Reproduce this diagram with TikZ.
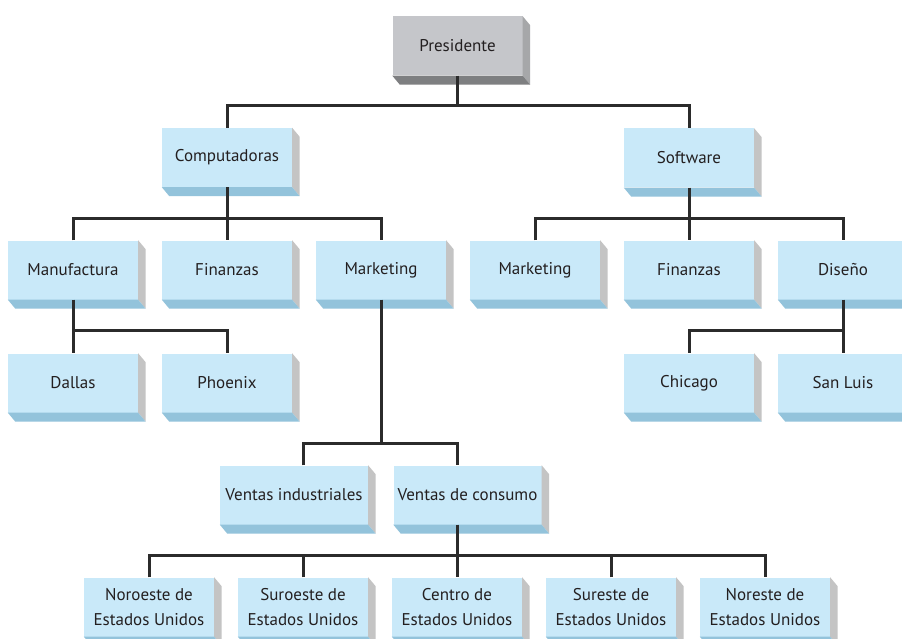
\documentclass[tikz,border=0pt]{standalone}
\usepackage{fontspec}
\setmainfont{PT Sans}
\definecolor{facefill}{HTML}{C9E9F9}
\definecolor{bevelfill}{HTML}{93C3DB}
\definecolor{sidefill}{HTML}{C4C4C4}
\definecolor{topface}{HTML}{C5C6CA}
\definecolor{topbevel}{HTML}{7E7F81}
\definecolor{topside}{HTML}{A6A7A9}
\definecolor{linecol}{HTML}{2B2B2B}
\definecolor{txtcol}{HTML}{231F20}
\tikzset{
  unitbox/.style={rectangle, inner sep=0pt, fill=facefill, text=txtcol,
    minimum width=130pt, minimum height=59pt, align=center,
    font=\fontsize{17}{25}\selectfont},
  widebox/.style={unitbox, minimum width=148pt},
  topbox/.style={unitbox, fill=topface},
  link/.style={draw=linecol, line width=3pt}
}
\begin{document}
\begin{tikzpicture}[x=1pt, y=-1pt]
\path[use as bounding box, clip] (0,0) rectangle (902,639);
\fill[white] (0,0) rectangle (902,639);

% level 0
\node[topbox] (pres) at (457.5,46) {Presidente};
% level 1
\node[unitbox] (comp) at (227,157.5) {Computadoras};
\node[unitbox] (soft) at (689,158) {Software};
% level 2
\node[unitbox] (manu) at (73,270) {Manufactura};
\node[unitbox] (finA) at (227,270) {Finanzas};
\node[unitbox] (mktA) at (381,270) {Marketing};
\node[unitbox] (mktB) at (535,270) {Marketing};
\node[unitbox] (finB) at (689,270) {Finanzas};
\node[unitbox] (dise) at (843,270) {Diseño};
% level 3
\node[unitbox] (dall) at (73,383) {Dallas};
\node[unitbox] (phoe) at (227,383) {Phoenix};
\node[unitbox] (chic) at (689,383) {Chicago};
\node[unitbox] (sanl) at (843,383) {San Luis};
% level 4
\node[widebox] (vind) at (294,495) {Ventas industriales};
\node[widebox] (vcon) at (467.5,495) {Ventas de consumo};
% level 5
\node[unitbox] (nroe) at (149,607) {Noroeste de\\Estados Unidos};
\node[unitbox] (sroe) at (303,607) {Suroeste de\\Estados Unidos};
\node[unitbox] (cent) at (457,607) {Centro de\\Estados Unidos};
\node[unitbox] (sres) at (611,607) {Sureste de\\Estados Unidos};
\node[unitbox] (nres) at (765,607) {Noreste de\\Estados Unidos};

% extruded sides of the boxes
\fill[topside] (pres.north east) -- ++(7.5pt,-9pt) -- ([shift={(7.5pt,-9pt)}]pres.south east) -- (pres.south east) -- cycle;
\fill[topbevel] (pres.south west) -- ++(7.5pt,-9pt) -- ([shift={(7.5pt,-9pt)}]pres.south east) -- (pres.south east) -- cycle;
\foreach \n in {comp,soft,manu,finA,mktA,mktB,finB,dise,dall,phoe,chic,sanl,vind,vcon,nroe,sroe,cent,sres,nres}{
  \fill[sidefill] (\n.north east) -- ++(7.5pt,-9pt) -- ([shift={(7.5pt,-9pt)}]\n.south east) -- (\n.south east) -- cycle;
  \fill[bevelfill] (\n.south west) -- ++(7.5pt,-9pt) -- ([shift={(7.5pt,-9pt)}]\n.south east) -- (\n.south east) -- cycle;
}

% connectors
\coordinate (j0) at (457.5,106);
\coordinate (j1) at (227,219);
\coordinate (j2) at (689,219);
\coordinate (j3) at (73,330);
\coordinate (j4) at (843,330);
\coordinate (j5) at (381,443);
\coordinate (j6) at (457,555);

\draw[link] (pres.south) -- (j0);
\draw[link] (comp.north) |- (j0) -| (soft.north);

\draw[link] (comp.south) -- (j1);
\draw[link] (manu.north) |- (j1) -| (mktA.north);
\draw[link] (j1) -- (finA.north);

\draw[link] (soft.south) -- (j2);
\draw[link] (mktB.north) |- (j2) -| (dise.north);
\draw[link] (j2) -- (finB.north);

\draw[link] (manu.south) -- (j3) -| (phoe.north);
\draw[link] (j3) -- (dall.north);

\draw[link] (dise.south) -- (j4) -| (chic.north);
\draw[link] (j4) -- (sanl.north);

\draw[link] (mktA.south) -- (j5);
\draw[link] ([xshift=9pt]vind.north) |- (j5) -| ([xshift=-10.5pt]vcon.north);

\draw[link] ([xshift=-10.5pt]vcon.south) -- (j6);
\draw[link] (nroe.north) |- (j6) -| (nres.north);
\draw[link] (sroe.north) |- (j6);
\draw[link] (sres.north) |- (j6);
\draw[link] (j6) -- (cent.north);
\end{tikzpicture}
\end{document}
